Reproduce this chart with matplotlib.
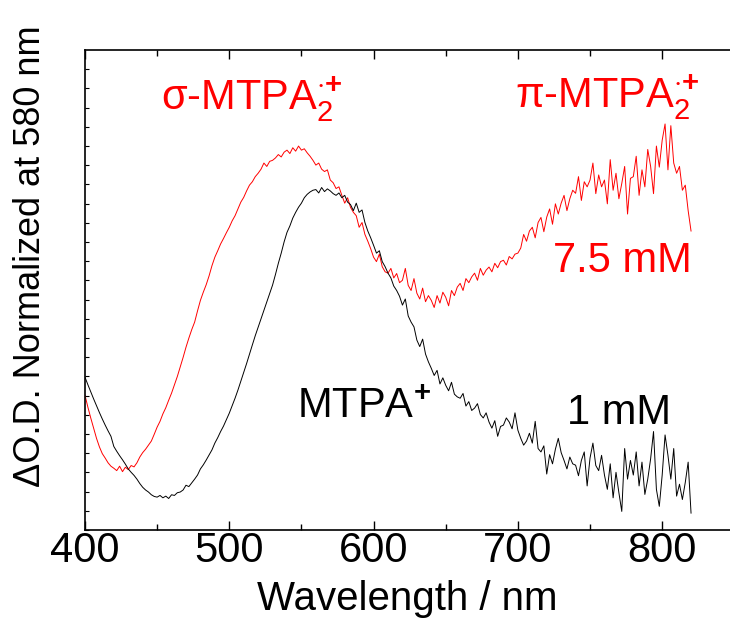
import numpy as np
import matplotlib
matplotlib.use("Agg")
import matplotlib.pyplot as plt
from matplotlib.ticker import MultipleLocator

plt.rcParams['font.family'] = ['Liberation Sans', 'DejaVu Sans']
plt.rcParams['mathtext.fontset'] = 'custom'
plt.rcParams['mathtext.rm'] = 'Liberation Sans'
plt.rcParams['mathtext.it'] = 'Liberation Sans'
plt.rcParams['mathtext.bf'] = 'Liberation Sans:bold'

# wavelength grid, 2 nm steps
wavelength = np.arange(400, 821, 2)

# MTPA+ (1 mM), normalized at 580 nm
mtpa_1mM = [
    0.450, 0.428, 0.407, 0.386, 0.366, 0.346, 0.327, 0.309, 0.292, 0.276,
    0.246, 0.232, 0.219, 0.207, 0.194, 0.180, 0.170, 0.161, 0.150, 0.137,
    0.126, 0.118, 0.112, 0.104, 0.099, 0.097, 0.102, 0.095, 0.100, 0.093,
    0.104, 0.102, 0.110, 0.112, 0.118, 0.132, 0.128, 0.139, 0.150, 0.162,
    0.180, 0.192, 0.206, 0.221, 0.236, 0.256, 0.272, 0.290, 0.306, 0.325,
    0.344, 0.366, 0.388, 0.412, 0.438, 0.465, 0.490, 0.518, 0.545, 0.572,
    0.597, 0.622, 0.648, 0.672, 0.698, 0.721, 0.752, 0.785, 0.815, 0.848,
    0.876, 0.895, 0.918, 0.935, 0.950, 0.962, 0.978, 0.988, 0.995, 1.000,
    1.002, 0.992, 1.008, 0.996, 1.004, 0.998, 0.990, 0.985, 0.992, 0.978,
    0.985, 0.965, 0.958, 0.940, 0.962, 0.935, 0.942, 0.905, 0.880, 0.860,
    0.838, 0.815, 0.822, 0.790, 0.775, 0.756, 0.742, 0.718, 0.705, 0.688,
    0.662, 0.680, 0.630, 0.612, 0.598, 0.559, 0.540, 0.562, 0.518, 0.495,
    0.476, 0.455, 0.470, 0.430, 0.448, 0.426, 0.410, 0.435, 0.400, 0.392,
    0.388, 0.402, 0.365, 0.378, 0.352, 0.359, 0.372, 0.340, 0.330, 0.345,
    0.318, 0.300, 0.322, 0.276, 0.305, 0.309, 0.330, 0.318, 0.298, 0.345,
    0.294, 0.270, 0.250, 0.262, 0.285, 0.256, 0.320, 0.240, 0.230, 0.248,
    0.165, 0.222, 0.195, 0.238, 0.270, 0.228, 0.205, 0.180, 0.215, 0.195,
    0.191, 0.160, 0.205, 0.230, 0.130, 0.212, 0.256, 0.190, 0.175, 0.220,
    0.162, 0.120, 0.195, 0.095, 0.170, 0.110, 0.055, 0.240, 0.150, 0.205,
    0.162, 0.230, 0.130, 0.200, 0.105, 0.150, 0.210, 0.290, 0.120, 0.070,
    0.162, 0.280, 0.220, 0.150, 0.240, 0.100, 0.135, 0.090, 0.140, 0.200,
    0.050,
]

# MTPA2 radical cation (7.5 mM), normalized at 580 nm
mtpa_75mM = [
    0.397, 0.362, 0.330, 0.300, 0.270, 0.245, 0.225, 0.212, 0.198, 0.188,
    0.182, 0.175, 0.188, 0.172, 0.185, 0.178, 0.190, 0.186, 0.198, 0.215,
    0.228, 0.238, 0.250, 0.262, 0.282, 0.303, 0.320, 0.342, 0.360, 0.382,
    0.403, 0.428, 0.452, 0.480, 0.508, 0.538, 0.565, 0.590, 0.612, 0.645,
    0.676, 0.700, 0.722, 0.748, 0.778, 0.803, 0.822, 0.842, 0.858, 0.875,
    0.891, 0.910, 0.925, 0.945, 0.965, 0.979, 0.998, 1.015, 1.025, 1.040,
    1.050, 1.062, 1.080, 1.070, 1.085, 1.088, 1.095, 1.105, 1.098, 1.112,
    1.118, 1.108, 1.125, 1.115, 1.130, 1.118, 1.122, 1.110, 1.100, 1.088,
    1.074, 1.080, 1.062, 1.055, 1.060, 1.030, 1.022, 1.005, 1.010, 0.985,
    0.962, 0.978, 0.950, 0.935, 0.925, 0.891, 0.905, 0.870, 0.850, 0.828,
    0.803, 0.790, 0.812, 0.775, 0.760, 0.756, 0.770, 0.742, 0.755, 0.728,
    0.735, 0.770, 0.720, 0.705, 0.740, 0.697, 0.680, 0.712, 0.672, 0.690,
    0.676, 0.655, 0.690, 0.668, 0.700, 0.685, 0.660, 0.705, 0.690, 0.715,
    0.726, 0.705, 0.740, 0.728, 0.745, 0.756, 0.735, 0.770, 0.750, 0.765,
    0.774, 0.760, 0.785, 0.772, 0.790, 0.794, 0.780, 0.805, 0.798, 0.812,
    0.815, 0.830, 0.870, 0.850, 0.880, 0.891, 0.860, 0.905, 0.920, 0.878,
    0.921, 0.945, 0.900, 0.960, 0.930, 0.962, 0.985, 0.940, 0.975, 1.000,
    0.991, 1.040, 0.970, 1.025, 1.010, 1.030, 1.080, 0.990, 1.045, 1.010,
    1.030, 0.960, 1.090, 1.000, 1.050, 0.975, 1.020, 1.070, 0.930, 1.035,
    1.040, 1.100, 0.985, 1.060, 1.010, 1.120, 1.070, 0.990, 1.130, 1.068,
    1.147, 1.195, 1.060, 1.190, 1.080, 1.050, 1.070, 1.000, 1.015, 0.940,
    0.880,
]

fig = plt.figure(figsize=(7.3, 6.2), dpi=100)
ax = fig.add_axes([0.1164, 0.145, 0.8836, 0.774])

ax.plot(wavelength, mtpa_75mM, color='red', lw=0.7)
ax.plot(wavelength, mtpa_1mM, color='black', lw=0.7)

ax.set_xlim(400, 847)
ax.set_ylim(0, 1.412)

ax.xaxis.set_major_locator(MultipleLocator(100))
ax.xaxis.set_minor_locator(MultipleLocator(50))
ax.yaxis.set_major_locator(MultipleLocator(0.0565))
ax.tick_params(axis='x', which='both', direction='in', top=True,
               labelsize=30, pad=1, width=1.0)
ax.tick_params(axis='x', which='major', length=6.5)
ax.tick_params(axis='x', which='minor', length=4.3)
ax.tick_params(axis='y', which='both', direction='in', length=3,
               labelleft=False, width=0.8)
ax.spines['right'].set_visible(False)
for s in ['left', 'top', 'bottom']:
    ax.spines[s].set_linewidth(1.2)

ax.set_xlabel('Wavelength / nm', fontsize=29, labelpad=6)
ax.set_ylabel('\u0394O.D. Normalized at 580 nm', fontsize=26)
ax.yaxis.set_label_coords(-0.058, 0.57)

sup = '$_2^{\\cdot\\mathbf{+}}$'
ax.text(453, 1.235, '\u03c3-MTPA' + sup, color='red', fontsize=30)
ax.text(698, 1.241, '\u03c0-MTPA' + sup, color='red', fontsize=30)
ax.text(724, 0.759, '7.5 mM', color='red', fontsize=30)
ax.text(547, 0.329, 'MTPA$^{\\mathbf{+}}$', color='black', fontsize=30)
ax.text(734, 0.312, '1 mM', color='black', fontsize=30)

fig.savefig('out.png', dpi=100)
